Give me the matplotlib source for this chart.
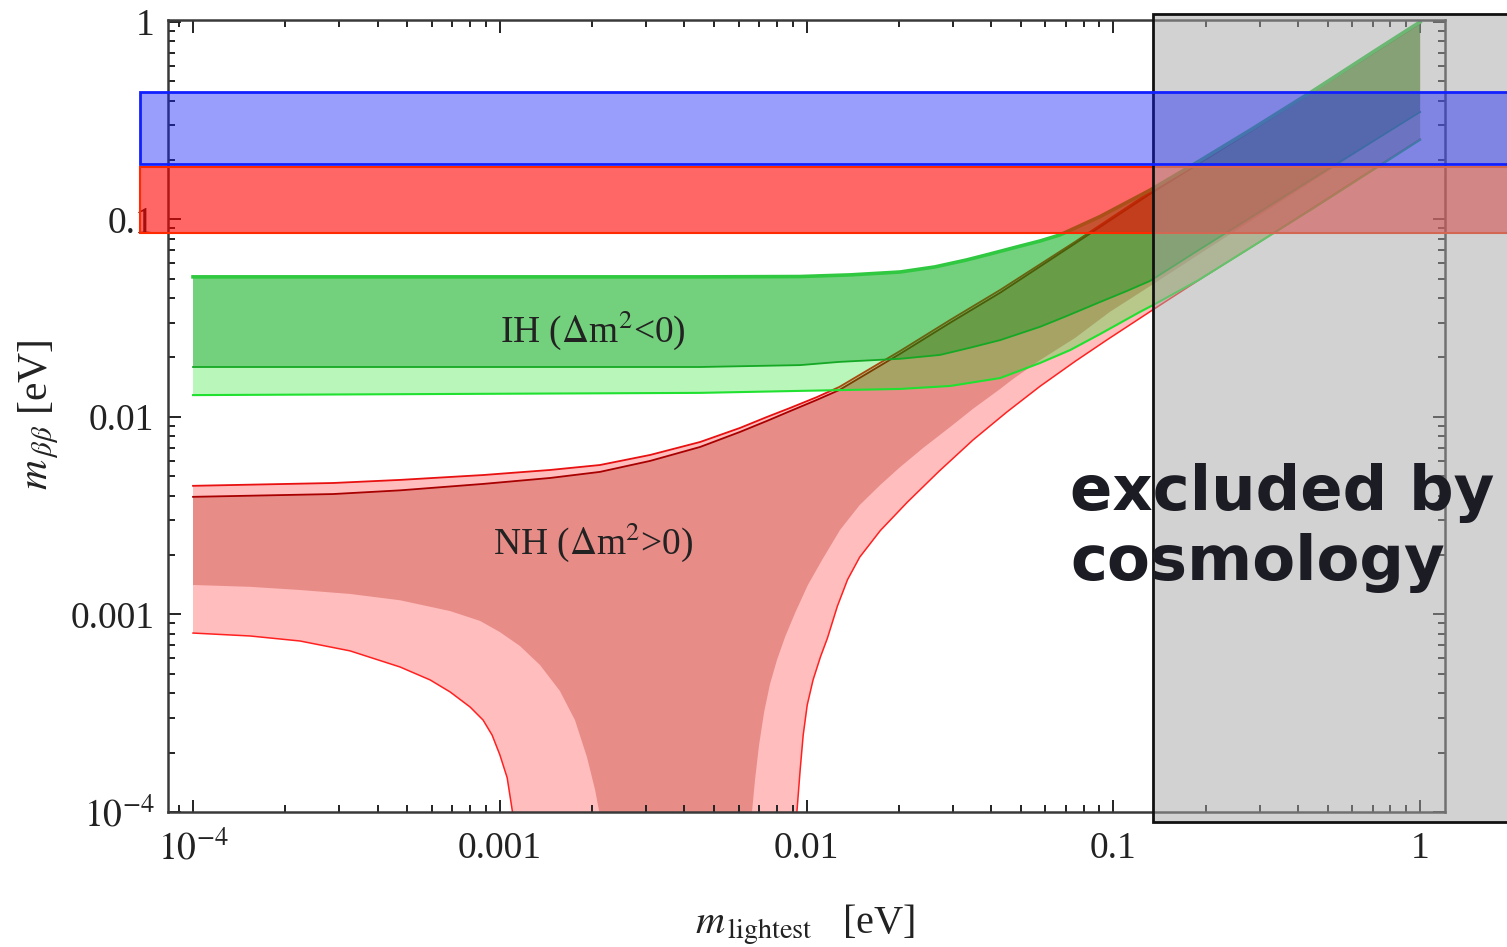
import numpy as np
import matplotlib.pyplot as plt
import matplotlib.transforms as mtransforms
from matplotlib.patches import Rectangle
from matplotlib.ticker import NullFormatter

plt.rcParams['font.family'] = ['Liberation Serif', 'DejaVu Serif']
plt.rcParams['mathtext.fontset'] = 'stix'

# inverted hierarchy (IH)
ih_up_x = [1e-4, 1e-3, 4.5e-3, 9.53e-3, 0.0139, 0.0202, 0.0262, 0.0333, 0.0397,
           0.0485, 0.0577, 0.067, 0.0906, 0.132, 0.19, 0.279, 0.45, 0.7, 1.0]
ih_upper = [0.0512, 0.0512, 0.0512, 0.0514, 0.0524, 0.0542, 0.0575, 0.0624,
            0.0669, 0.0726, 0.0778, 0.0835, 0.1035, 0.141, 0.197, 0.283, 0.45,
            0.702, 1.0]

ih_li_x = [1e-4, 4.5e-3, 9.53e-3, 0.0128, 0.0202, 0.0272, 0.0341, 0.0428,
           0.0577, 0.0707, 0.0906, 0.111, 0.132, 0.19, 0.279, 0.45, 1.0]
ih_low_inner = [0.0179, 0.0179, 0.0183, 0.019, 0.0197, 0.0206, 0.0224, 0.0245,
                0.0286, 0.0325, 0.0382, 0.0435, 0.0489, 0.0701, 0.1018, 0.162,
                0.35]

ih_lo_x = [1e-4, 4.5e-3, 9.53e-3, 0.0202, 0.0294, 0.0428, 0.0577, 0.0723,
           0.0906, 0.122, 0.135, 0.19, 0.279, 0.45, 1.0]
ih_low_outer = [0.0129, 0.01324, 0.01355, 0.01386, 0.01435, 0.01574, 0.01876,
                0.0218, 0.0263, 0.034, 0.0369, 0.0494, 0.0717, 0.1143, 0.253]

# normal hierarchy (NH)
nh_up_x = [1e-4, 2.86e-4, 4.73e-4, 8.82e-4, 1.46e-3, 2.12e-3, 3.09e-3, 4.5e-3,
           6.07e-3, 7.43e-3, 8.83e-3, 0.0108, 0.0128, 0.0202, 0.0294, 0.0428,
           0.075, 0.132, 0.279, 0.5, 1.0]
nh_up_outer = [4.48e-3, 4.63e-3, 4.8e-3, 5.08e-3, 5.39e-3, 5.71e-3, 6.42e-3,
               7.47e-3, 8.8e-3, 0.01, 0.0111, 0.0126, 0.0142, 0.0216, 0.031,
               0.044, 0.077, 0.138, 0.282, 0.501, 1.0]
nh_up_inner = [3.94e-3, 4.07e-3, 4.25e-3, 4.58e-3, 4.91e-3, 5.27e-3, 5.99e-3,
               7.05e-3, 8.4e-3, 9.55e-3, 0.0107, 0.0122, 0.0137, 0.0209, 0.030,
               0.0426, 0.0755, 0.135, 0.278, 0.495, 0.985]

nh_li_x = [1e-4, 1.535e-4, 2.23e-4, 3.25e-4, 4.73e-4, 6.89e-4, 8.63e-4, 1e-3,
           1.164e-3, 1.352e-3, 1.57e-3, 1.758e-3, 1.923e-3, 2.046e-3, 2.11e-3,
           2.25e-3, 6.5e-3, 6.64e-3, 6.79e-3, 7.0e-3, 7.27e-3, 7.6e-3, 8.01e-3,
           8.51e-3, 9.18e-3, 0.0101, 0.01124, 0.01286, 0.0149, 0.0174, 0.0202,
           0.024, 0.0294, 0.0349, 0.0428, 0.0471, 0.0577, 0.075, 0.0976,
           0.135, 0.2, 0.3, 0.5, 0.7, 1.0]
nh_low_inner = [1.41e-3, 1.38e-3, 1.33e-3, 1.27e-3, 1.18e-3, 1.04e-3, 9.27e-4,
                8.15e-4, 6.92e-4, 5.55e-4, 4.1e-4, 2.92e-4, 1.9e-4, 1.29e-4,
                1.0e-4, 1e-6, 1e-6, 1.0e-4, 1.45e-4, 2.18e-4, 3.2e-4, 4.44e-4,
                5.89e-4, 7.69e-4, 1.02e-3, 1.41e-3, 1.89e-3, 2.68e-3, 3.58e-3,
                4.53e-3, 5.58e-3, 6.97e-3, 8.9e-3, 0.011, 0.01387, 0.01556,
                0.0194, 0.0251, 0.0341, 0.0471, 0.07, 0.105, 0.175, 0.245, 0.35]

nh_lo_x = [1e-4, 1.535e-4, 2.23e-4, 3.25e-4, 4.73e-4, 5.93e-4, 6.89e-4, 8.0e-4,
           8.82e-4, 9.44e-4, 1e-3, 1.057e-3, 1.1e-3, 1.2e-3, 8.9e-3, 9.3e-3,
           9.53e-3, 9.75e-3, 0.01005, 0.0105, 0.0111, 0.0117, 0.0126, 0.0136,
           0.0149, 0.0174, 0.0213, 0.027, 0.0349, 0.045, 0.0577, 0.075,
           0.0955, 0.135, 0.2, 0.3, 0.5, 0.7, 1.0]
nh_low_outer = [8.05e-4, 7.78e-4, 7.34e-4, 6.54e-4, 5.42e-4, 4.66e-4, 4.05e-4,
                3.4e-4, 2.92e-4, 2.45e-4, 1.95e-4, 1.49e-4, 1.0e-4, 1e-6, 1e-6,
                1.0e-4, 1.63e-4, 2.45e-4, 3.48e-4, 4.66e-4, 6.1e-4, 7.6e-4,
                1.1e-3, 1.5e-3, 1.95e-3, 2.66e-3, 3.7e-3, 5.3e-3, 7.65e-3,
                0.0106, 0.0143, 0.0191, 0.0246, 0.035, 0.0519, 0.077, 0.128,
                0.179, 0.255]

# experimental bands and cosmology bound
blue_band = (0.191, 0.442)
red_band = (0.0855, 0.1845)
cosmo_limit = 0.135

tick_vals = [1e-4, 1e-3, 1e-2, 1e-1, 1]
tick_labels = [r'$10^{-4}$', '0.001', '0.01', '0.1', '1']


def region(ax, x1, y1, x2, y2, **kw):
    xs = np.concatenate([x1, x2[::-1]])
    ys = np.concatenate([y1, y2[::-1]])
    ax.fill(xs, ys, **kw)


fig = plt.figure(figsize=(15.07, 9.47), dpi=100)
ax = fig.add_axes([0.1115, 0.1426, 0.8474, 0.8363])
ax.set_xscale('log')
ax.set_yscale('log')
ax.set_xlim(8.29e-5, 1.206)
ax.set_ylim(1e-4, 1.023)

A = np.array

# NH
region(ax, A(nh_up_x), A(nh_up_outer), A(nh_lo_x), A(nh_low_outer),
       color='#ffbdbd', lw=0, zorder=1)
region(ax, A(nh_up_x), A(nh_up_inner), A(nh_li_x), A(nh_low_inner),
       color='#e88c88', lw=0, zorder=1.1)
ax.plot(nh_up_x, nh_up_outer, color='#e81010', lw=1.3, zorder=1.2)
ax.plot(nh_up_x, nh_up_inner, color='#a80000', lw=1.3, zorder=1.2)
ax.plot(nh_lo_x, nh_low_outer, color='#ff2020', lw=1.1, zorder=1.2)

# IH
region(ax, A(ih_li_x), A(ih_low_inner), A(ih_lo_x), A(ih_low_outer),
       color=(0, 226 / 255, 8 / 255, 0.28), lw=0, zorder=2)
region(ax, A(ih_up_x), A(ih_upper), A(ih_li_x), A(ih_low_inner),
       color=(0, 171 / 255, 17 / 255, 0.55), lw=0, zorder=2)
ax.plot(ih_up_x, ih_upper, color='#30c840', lw=2.6, zorder=2.2)
ax.plot(ih_li_x, ih_low_inner, color='#14a824', lw=1.3, zorder=2.2)
ax.plot(ih_lo_x, ih_low_outer, color='#20e030', lw=1.5, zorder=2.2)

ax.text(0.333, 0.609, r'IH ($\Delta$m$^2$<0)', transform=ax.transAxes,
        ha='center', va='center', fontsize=27, color='#222222', zorder=3)
ax.text(0.333, 0.341, r'NH ($\Delta$m$^2$>0)', transform=ax.transAxes,
        ha='center', va='center', fontsize=27, color='#222222', zorder=3)

# bands across the figure width
trans_band = mtransforms.blended_transform_factory(fig.transFigure, ax.transData)
ax.add_patch(Rectangle((0.093, red_band[0]), 1.0, red_band[1] - red_band[0],
                       transform=trans_band, facecolor=(1, 0, 0, 0.6),
                       edgecolor='#ff2a00', lw=1.5, clip_on=False, zorder=5))

trans_box = mtransforms.blended_transform_factory(ax.transData, fig.transFigure)
ax.add_patch(Rectangle((cosmo_limit, 0.132), 100, 0.853, transform=trans_box,
                       facecolor=(0.655, 0.655, 0.655, 0.5), edgecolor='#111111',
                       lw=2, clip_on=False, zorder=6))

ax.add_patch(Rectangle((0.093, blue_band[0]), 1.0, blue_band[1] - blue_band[0],
                       transform=trans_band,
                       facecolor=(20 / 255, 30 / 255, 250 / 255, 0.43),
                       edgecolor='#1020ff', lw=2, clip_on=False, zorder=7))

fig.text(0.710, 0.4425, 'excluded by\ncosmology', fontfamily='DejaVu Sans',
         fontweight='bold', fontsize=45, color='#1c1c24', ha='left',
         va='center', zorder=10)

# axes styling
ax.set_xticks(tick_vals)
ax.set_xticklabels(tick_labels)
ax.set_yticks(tick_vals)
ax.set_yticklabels(tick_labels)
ax.xaxis.set_minor_formatter(NullFormatter())
ax.yaxis.set_minor_formatter(NullFormatter())
ax.tick_params(which='both', direction='in', top=True, right=True,
               color='#222222', width=1.4, labelsize=27, labelcolor='#222222')
ax.tick_params(which='major', length=9)
ax.tick_params(which='minor', length=5)
ax.tick_params(axis='x', pad=14)
ax.tick_params(axis='y', pad=10)
for s in ax.spines.values():
    s.set_color('#3a3a3a')
    s.set_linewidth(1.8)

fig.text(0.534, 0.023, r'$m_{\,\mathrm{lightest}}$   [eV]', ha='center',
         va='center', fontsize=29, color='#222222')
fig.text(0.026, 0.562, r'$m_{\,\beta\beta}$ [eV]', ha='center', va='center',
         rotation=90, fontsize=30, color='#222222')

fig.savefig('out.png', dpi=100)
